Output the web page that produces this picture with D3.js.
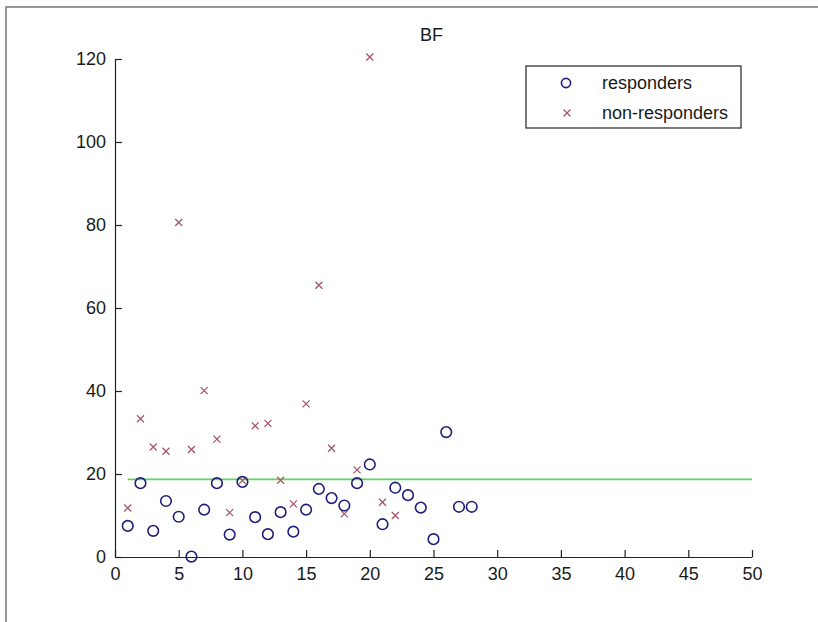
<!DOCTYPE html>
<html>
<head>
<meta charset="utf-8">
<script src="https://cdn.jsdelivr.net/npm/d3@7"></script>
<style>
  body { margin: 0; background: #fff; }
  text { font-family: "Liberation Sans", Arial, sans-serif; fill: #1a1a1a; }
</style>
</head>
<body>
<div id="app"></div>
<script>
const responderX = [1, 2, 3, 4, 5, 6, 7, 8, 9, 10, 11, 12, 13, 14, 15, 16, 17, 18, 19, 20, 21, 22, 23, 24, 25, 26, 27, 28];
const responderY = [7.5, 17.8, 6.3, 13.5, 9.7, 0.1, 11.4, 17.8, 5.4, 18.1, 9.6, 5.5, 10.8, 6.1, 11.4, 16.4, 14.2, 12.4, 17.8, 22.3, 7.9, 16.7, 14.9, 11.9, 4.3, 30.1, 12.1, 12.1];

const nonResponderX = [1, 2, 3, 4, 5, 6, 7, 8, 9, 10, 11, 12, 13, 14, 15, 16, 17, 18, 19, 20, 21, 22];
const nonResponderY = [11.8, 33.3, 26.5, 25.5, 80.6, 25.9, 40.1, 28.4, 10.7, 18.4, 31.6, 32.2, 18.5, 12.8, 36.9, 65.5, 26.2, 10.4, 21.0, 120.5, 13.2, 10.0];

const thresholdX = [1, 50];
const thresholdY = 18.7;

const xTicks = [0, 5, 10, 15, 20, 25, 30, 35, 40, 45, 50];
const yTicks = [0, 20, 40, 60, 80, 100, 120];

const chart = () => {
  const width = 818;
  const height = 622;

  const svg = d3.create("svg").attr("width", width).attr("height", height);

  // figure frame (only top and left edges are visible)
  svg
    .append("path")
    .attr("d", `M6,${height} V7 H${width}`)
    .attr("fill", "none")
    .attr("stroke", "#777")
    .attr("stroke-width", 1.5);

  const x = d3.scaleLinear().domain([0, 50]).range([115, 752]);
  const y = d3.scaleLinear().domain([0, 120]).range([557, 59]);

  const xAxis = svg
    .append("g")
    .attr("transform", `translate(0,${y(0)})`)
    .call(
      d3.axisBottom(x).tickValues(xTicks).tickSize(-7).tickSizeOuter(0).tickPadding(10)
    );

  const yAxis = svg
    .append("g")
    .attr("transform", `translate(${x(0)},0)`)
    .call(
      d3.axisLeft(y).tickValues(yTicks).tickSize(-7).tickSizeOuter(0).tickPadding(9)
    );

  [xAxis, yAxis].forEach((g) => {
    g.selectAll("path, line").attr("stroke", "#222").attr("stroke-width", 1.2);
    g.selectAll("text")
      .style("font-size", "18px")
      .style("font-family", '"Liberation Sans", Arial, sans-serif')
      .attr("fill", "#1a1a1a");
  });

  // threshold line
  svg
    .append("line")
    .attr("x1", x(thresholdX[0]))
    .attr("x2", x(thresholdX[1]))
    .attr("y1", y(thresholdY))
    .attr("y2", y(thresholdY))
    .attr("stroke", "#5fd35f")
    .attr("stroke-width", 1.6);

  const nonResp = nonResponderX.map((d, i) => ({ x: d, y: nonResponderY[i] }));
  const resp = responderX.map((d, i) => ({ x: d, y: responderY[i] }));

  const cross = (sel) =>
    sel
      .append("path")
      .attr("d", "M-3.5,-3.5L3.5,3.5M-3.5,3.5L3.5,-3.5")
      .attr("fill", "none")
      .attr("stroke", "#a3586a")
      .attr("stroke-width", 1.3);

  svg
    .append("g")
    .selectAll("g")
    .data(nonResp)
    .enter()
    .append("g")
    .attr("transform", (d) => `translate(${x(d.x)},${y(d.y)})`)
    .call(cross);

  svg
    .append("g")
    .selectAll("circle")
    .data(resp)
    .enter()
    .append("circle")
    .attr("cx", (d) => x(d.x))
    .attr("cy", (d) => y(d.y))
    .attr("r", 5.3)
    .attr("fill", "none")
    .attr("stroke", "#20207a")
    .attr("stroke-width", 1.6);

  svg
    .append("text")
    .text("BF")
    .attr("x", (x(0) + x(50)) / 2 - 2)
    .attr("y", 41)
    .attr("text-anchor", "middle")
    .style("font-size", "18px");

  // legend
  const legend = svg.append("g");
  legend
    .append("rect")
    .attr("x", 526)
    .attr("y", 66)
    .attr("width", 215)
    .attr("height", 62)
    .attr("fill", "#fff")
    .attr("stroke", "#222")
    .attr("stroke-width", 1.2);

  legend
    .append("circle")
    .attr("cx", 566)
    .attr("cy", 83)
    .attr("r", 4.6)
    .attr("fill", "none")
    .attr("stroke", "#20207a")
    .attr("stroke-width", 1.6);

  legend.append("g").attr("transform", "translate(567,113)").call(cross);

  legend
    .append("text")
    .text("responders")
    .attr("x", 602)
    .attr("y", 89)
    .style("font-size", "18px");

  legend
    .append("text")
    .text("non-responders")
    .attr("x", 602)
    .attr("y", 119)
    .style("font-size", "18px");

  return svg.node();
};

d3.select("#app").append(chart);
</script>
</body>
</html>
